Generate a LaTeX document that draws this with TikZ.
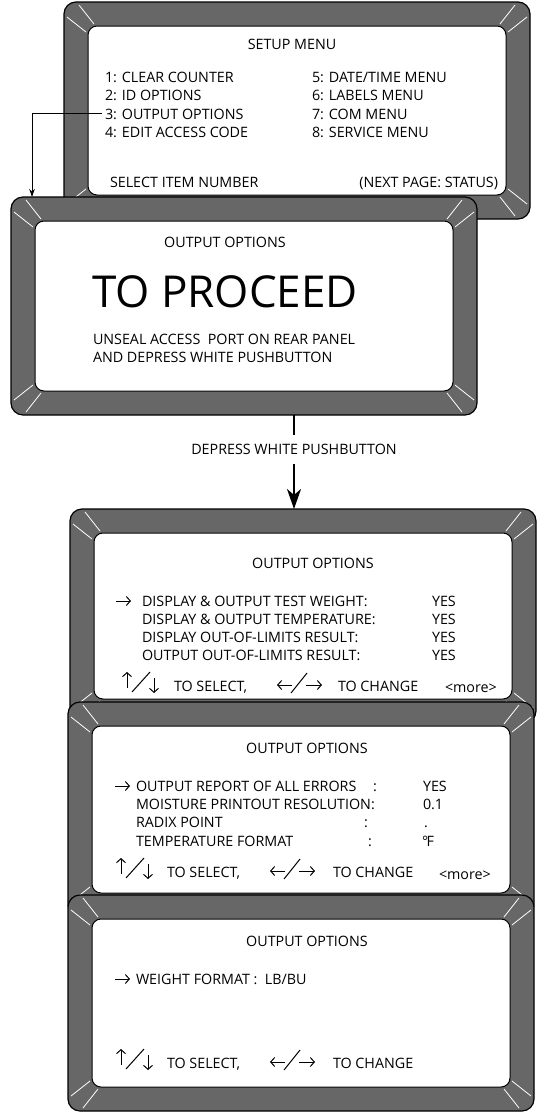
\documentclass[tikz,border=0pt]{standalone}
\usepackage{fontspec}
\setmainfont{Open Sans}
\usetikzlibrary{calc,arrows.meta}
\definecolor{bezel}{RGB}{103,103,103}
\tikzset{
  bezelbox/.style={draw=black,line width=1.2pt,fill=bezel,rounded corners=12pt,minimum width=466pt,minimum height=#1,inner sep=0pt,outer sep=0pt},
  screen/.style={draw=black,line width=1pt,fill=white,rounded corners=9pt,minimum width=418pt,minimum height=#1,inner sep=0pt,outer sep=0pt},
  glint/.style={draw=white,line width=0.8pt},
  txt/.style={inner sep=0pt,outer sep=0pt,font=\fontsize{14.3}{17}\selectfont,anchor=base west},
  ctxt/.style={txt,anchor=base},
  link/.style={draw,line width=0.9pt,-{Stealth[length=8pt,width=5.5pt]}},
  bigline/.style={draw,line width=2pt},
  sym/.style={draw,line width=1pt},
  symtip/.style={sym,-{Straight Barb[length=4pt,width=9pt]}},
  ra/.pic={\draw[symtip] (0,-5) -- (15,-5);},
  updn/.pic={
    \draw[symtip] (5,-3) -- (5,-19);
    \draw[sym] (10,1) -- (28,-19);
    \draw[symtip] (32,-13) -- (32,2);},
  lr/.pic={
    \draw[symtip] (15,-6) -- (0,-6);
    \draw[sym] (14,2) -- (30,-18);
    \draw[symtip] (29,-6) -- (45,-6);},
}
\newcommand\glints[1]{%
  \draw[glint] ($(#1.north west)+(15,3)$) -- ($(#1.north west)+(30,22)$);
  \draw[glint] ($(#1.north west)+(3,15)$) -- ($(#1.north west)+(22,30)$);
  \draw[glint] ($(#1.north east)+(-15,3)$) -- ($(#1.north east)+(-30,22)$);
  \draw[glint] ($(#1.north east)+(-3,15)$) -- ($(#1.north east)+(-22,30)$);
  \draw[glint] ($(#1.south west)+(15,-3)$) -- ($(#1.south west)+(30,-22)$);
  \draw[glint] ($(#1.south west)+(3,-15)$) -- ($(#1.south west)+(22,-30)$);
  \draw[glint] ($(#1.south east)+(-15,-3)$) -- ($(#1.south east)+(-30,-22)$);
  \draw[glint] ($(#1.south east)+(-3,-15)$) -- ($(#1.south east)+(-22,-30)$);
}
\newcommand\panel[4]{%
  \node[bezelbox=#4pt] (#1) at ({#2+233},{#3+#4/2}) {};
  \glints{#1}
  \node[screen=#4pt-48pt] (#1s) at (#1.center) {};
}
\begin{document}
\begin{tikzpicture}[x=1pt,y=-1pt]
\useasboundingbox (0,0) rectangle (537,1112);
% ---------- panel 1
\panel{p1}{64}{2}{217}
\node[ctxt] (t1) at (292,49) {SETUP MENU};
\node[txt] (a1) at (105,82) {1: CLEAR COUNTER};
\node[txt] (a2) at (105,100.5) {2: ID OPTIONS};
\node[txt] (a3) at (105,119) {3: OUTPUT OPTIONS};
\node[txt] (a4) at (105,137.5) {4: EDIT ACCESS CODE};
\node[txt] (b1) at (312,82) {5: DATE/TIME MENU};
\node[txt] (b2) at (312,100.5) {6: LABELS MENU};
\node[txt] (b3) at (312,119) {7: COM MENU};
\node[txt] (b4) at (312,137.5) {8: SERVICE MENU};
\node[txt] (sel) at (110,187) {SELECT ITEM NUMBER};
\node[txt,anchor=base east] (nxt) at (498,187) {(NEXT PAGE: STATUS)};
% ---------- panel 2
\panel{p2}{11}{197}{218}
\coordinate (k) at (32,0);
\draw[link] ([xshift=-3pt]a3.west) -- (k |- a3.west) -- (k |- p2.north);
\node[ctxt] (t2) at (225,247) {OUTPUT OPTIONS};
\node[txt,font=\fontsize{44}{50}\selectfont] (big) at (92,307) {TO PROCEED};
\node[txt] (u1) at (93,344.5) {UNSEAL ACCESS~ PORT ON REAR PANEL};
\node[txt] (u2) at (93,362) {AND DEPRESS WHITE PUSHBUTTON};
% ---------- panel 3
\panel{p3}{70}{509}{214}
\node[ctxt] (t3) at (313,568) {OUTPUT OPTIONS};
\pic at (116,606) {ra};
\node[txt] (r31) at (142,606) {DISPLAY \& OUTPUT TEST WEIGHT:};
\node[txt] (r32) at (142,624) {DISPLAY \& OUTPUT TEMPERATURE:};
\node[txt] (r33) at (142,642) {DISPLAY OUT-OF-LIMITS RESULT:};
\node[txt] (r34) at (142,660) {OUTPUT OUT-OF-LIMITS RESULT:};
\node[txt] (v31) at (432,606) {YES};
\node[txt] (v32) at (432,624) {YES};
\node[txt] (v33) at (432,642) {YES};
\node[txt] (v34) at (432,660) {YES};
\pic at (122,691) {updn};
\node[txt] (s3a) at (174,691) {TO SELECT,};
\pic at (277,691) {lr};
\node[txt] (s3b) at (338,691) {TO CHANGE};
\node[txt] (m3) at (445,692) {<more>};
% ---------- panel 4
\panel{p4}{68}{702}{215}
\node[ctxt] (t4) at (307,753) {OUTPUT OPTIONS};
\pic at (115,791) {ra};
\node[txt] (r41) at (136,791) {OUTPUT REPORT OF ALL ERRORS};
\node[txt] (c41) at (373,791) {:};
\node[txt] (r42) at (136,809) {MOISTURE PRINTOUT RESOLUTION:};
\node[txt] (r43) at (136,827) {RADIX POINT};
\node[txt] (c43) at (364,827) {:};
\node[txt] (r44) at (136,846) {TEMPERATURE FORMAT};
\node[txt] (c44) at (368,846) {:};
\node[txt] (v41) at (423,791) {YES};
\node[txt] (v42) at (423,809) {0.1};
\node[txt] (v43) at (424,827) {.};
\node[txt] (v44) at (422,846) {°\kern-1.5pt F};
\pic at (116,877) {updn};
\node[txt] (s4a) at (167,877) {TO SELECT,};
\pic at (270,877) {lr};
\node[txt] (s4b) at (333,877) {TO CHANGE};
\node[txt] (m4) at (439,879) {<more>};
% ---------- panel 5
\panel{p5}{68}{895}{216}
\node[ctxt] (t5) at (307,946) {OUTPUT OPTIONS};
\pic at (115,984) {ra};
\node[txt] (r51) at (136,984) {WEIGHT FORMAT :~ LB/BU};
\pic at (116,1068) {updn};
\node[txt] (s5a) at (167,1068) {TO SELECT,};
\pic at (270,1068) {lr};
\node[txt] (s5b) at (333,1068) {TO CHANGE};
% ---------- main transition
\node[ctxt,inner ysep=9.5pt] (lbl) at (294,454.5) {DEPRESS WHITE PUSHBUTTON};
\draw[bigline] (lbl.north |- p2.south) -- (lbl.north);
\draw[bigline,-{Stealth[length=20pt,width=14pt,inset=6pt]}] (lbl.south) -- (lbl.south |- p3.north);
\end{tikzpicture}
\end{document}
